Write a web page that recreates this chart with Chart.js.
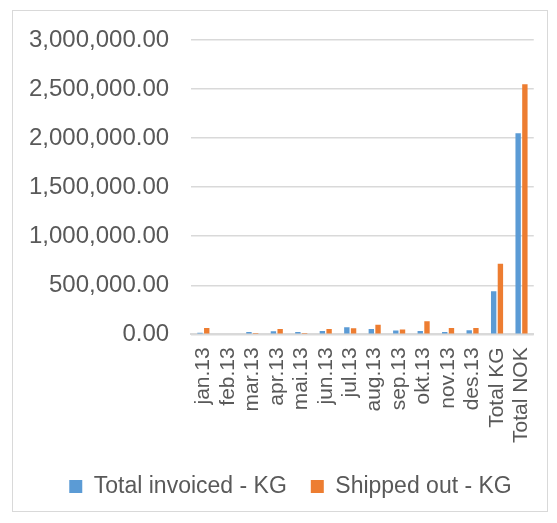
<!DOCTYPE html>
<html>
<head>
<meta charset="utf-8">
<script src="https://cdn.jsdelivr.net/npm/chart.js@4/dist/chart.umd.min.js"></script>
<style>
  body { margin: 0; background: #fff; }
  #box {
    position: absolute; left: 12px; top: 10px;
    width: 534px; height: 500px;
    border: 1px solid #d9d9d9; background: #fff;
  }
</style>
</head>
<body>
<div id="box"><canvas id="graph" width="534" height="500"></canvas></div>
<script>
var months = ['jan.13','feb.13','mar.13','apr.13','mai.13','jun.13','jul.13','aug.13','sep.13','okt.13','nov.13','des.13','Total KG','Total NOK'];
var invoicedKg = [15000, 0, 23000, 30000, 23000, 33000, 72000, 53000, 40000, 33000, 23000, 42000, 440000, 2050000];
var shippedKg  = [65000, 0, 12000, 53000, 12000, 53000, 62000, 98000, 50000, 133000, 65000, 65000, 720000, 2550000];
var yTicks = [0, 500000, 1000000, 1500000, 2000000, 2500000, 3000000];

var grey = '#d9d9d9';
var textCol = '#595959';
var family = 'Liberation Sans, Arial, sans-serif';

// nudge the legend a little to the right of the canvas centre
var legendShift = {
  id: 'legendShift',
  afterLayout: function(chart){
    chart.legend.left += 4;
    chart.legend.right += 4;
  }
};

var barChart = new Chart(document.getElementById('graph'), {
  type: 'bar',
  data: {
    labels: months,
    datasets: [{
      label: 'Total invoiced - KG',
      data: invoicedKg,
      backgroundColor: '#5b9bd5',
      barPercentage: 0.8,
      categoryPercentage: 0.55
    }, {
      label: 'Shipped out - KG',
      data: shippedKg,
      backgroundColor: '#ed7d31',
      barPercentage: 0.8,
      categoryPercentage: 0.55
    }]
  },
  plugins: [legendShift],
  options: {
    responsive: false,
    animation: false,
    layout: { padding: { left: 16, right: 3, top: 29, bottom: 3 } },
    plugins: {
      tooltip: { enabled: false },
      legend: {
        position: 'bottom',
        labels: {
          color: textCol,
          font: { family: family, size: 23 },
          boxWidth: 13, boxHeight: 13,
          padding: 24
        }
      }
    },
    scales: {
      x: {
        grid: { display: false },
        border: { display: true, color: grey, width: 2 },
        ticks: {
          color: textCol, font: { family: family, size: 21 },
          maxRotation: 90, minRotation: 90,
          autoSkip: false, padding: 5
        },
        // chart.js reserves the tick padding twice; adjust the axis box
        afterFit: function(axis){
          axis.height += 3;
          axis.paddingRight -= 5;
        }
      },
      y: {
        min: 0, max: 3000000,
        afterBuildTicks: function(axis){
          axis.ticks = yTicks.map(function(v){ return { value: v }; });
        },
        grid: { color: grey, lineWidth: 1.5, drawTicks: false },
        border: { display: false },
        ticks: {
          color: textCol, font: { family: family, size: 24 }, padding: 22,
          callback: function(v){
            return Number(v).toLocaleString('en-US', { minimumFractionDigits: 2, maximumFractionDigits: 2 });
          }
        },
        afterFit: function(axis){
          axis.width -= 22;
          axis.paddingTop -= 22;
        }
      }
    }
  }
});
</script>
</body>
</html>
